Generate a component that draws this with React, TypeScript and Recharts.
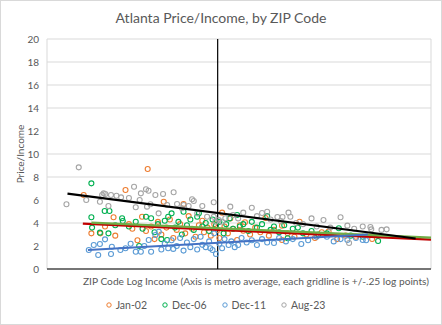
import {
    ScatterChart,
    Scatter,
    XAxis,
    YAxis,
    CartesianGrid,
    ReferenceLine,
    Legend,
} from 'recharts';

// x = ZIP log income relative to metro average, y = price / income
const jan02: [number, number][] = [
    [-0.785, 6.43], [-0.74, 3.1], [-0.687, 3.1], [-0.66, 3.7], [-0.61, 4.5], [-0.6, 2.9],
    [-0.54, 6.87], [-0.52, 3.9], [-0.5, 3.5], [-0.47, 2.5], [-0.443, 4.55], [-0.42, 3.3],
    [-0.41, 8.7], [-0.39, 3.7], [-0.37, 2.6], [-0.35, 4.1], [-0.33, 3.0], [-0.316, 5.85],
    [-0.3, 3.6], [-0.28, 4.3], [-0.26, 2.7], [-0.24, 3.4], [-0.22, 3.9], [-0.2, 5.65],
    [-0.19, 3.1], [-0.17, 4.6], [-0.15, 3.5], [-0.13, 2.8], [-0.11, 3.8], [-0.09, 4.2],
    [-0.08, 3.2], [-0.06, 3.6], [-0.04, 2.9], [-0.02, 3.9], [0.0, 3.4], [0.01, 2.7],
    [0.026, 4.9], [0.04, 3.7], [0.06, 3.1], [0.074, 4.4], [0.09, 3.5], [0.114, 2.52],
    [0.13, 3.8], [0.15, 3.33], [0.16, 4.06], [0.19, 3.0], [0.22, 3.6], [0.25, 3.2],
    [0.28, 4.43], [0.3, 2.9], [0.33, 3.4], [0.377, 3.77], [0.377, 2.52], [0.41, 3.1],
    [0.45, 2.8], [0.48, 4.11], [0.52, 3.0], [0.57, 2.7], [0.61, 3.2], [0.65, 3.25],
    [0.7, 2.6], [0.75, 2.9], [0.81, 2.81], [0.905, 2.61],
];

const dec06: [number, number][] = [
    [-0.74, 7.45], [-0.74, 4.5], [-0.736, 3.6], [-0.69, 3.16], [-0.662, 5.04], [-0.64, 3.1],
    [-0.634, 5.04], [-0.6, 3.8], [-0.56, 4.41], [-0.556, 4.17], [-0.52, 3.7], [-0.48, 4.11],
    [-0.46, 2.0], [-0.44, 3.5], [-0.42, 4.55], [-0.39, 4.41], [-0.37, 3.2], [-0.35, 3.9],
    [-0.33, 2.6], [-0.31, 4.2], [-0.296, 2.52], [-0.29, 4.55], [-0.27, 4.84], [-0.25, 3.6],
    [-0.23, 4.1], [-0.21, 3.0], [-0.2, 4.98], [-0.18, 3.8], [-0.16, 4.3], [-0.14, 3.4],
    [-0.12, 4.55], [-0.11, 4.84], [-0.09, 3.7], [-0.07, 4.0], [-0.05, 3.3], [-0.03, 4.3],
    [-0.01, 3.8], [0.01, 4.1], [0.035, 3.1], [0.05, 3.9], [0.07, 4.4], [0.09, 3.5],
    [0.114, 4.7], [0.13, 3.7], [0.15, 3.9], [0.18, 3.3], [0.2, 4.1], [0.23, 3.6],
    [0.26, 3.9], [0.29, 4.6], [0.31, 3.4], [0.33, 3.7], [0.36, 3.2], [0.39, 3.8],
    [0.41, 2.67], [0.44, 3.5], [0.47, 3.6], [0.5, 3.1], [0.55, 3.3], [0.59, 3.0],
    [0.64, 3.1], [0.71, 3.54], [0.78, 2.9], [0.85, 2.8], [0.94, 2.43],
];

const dec11: [number, number][] = [
    [-0.755, 1.65], [-0.726, 2.09], [-0.7, 1.22], [-0.69, 2.17], [-0.66, 2.58], [-0.625, 1.3],
    [-0.62, 1.94], [-0.57, 1.65], [-0.54, 1.8], [-0.51, 2.2], [-0.48, 1.5], [-0.45, 1.5],
    [-0.43, 2.0], [-0.404, 2.52], [-0.39, 1.5], [-0.365, 2.96], [-0.345, 3.24], [-0.33, 1.7],
    [-0.31, 2.2], [-0.29, 1.8], [-0.27, 2.5], [-0.26, 1.75], [-0.24, 2.0], [-0.22, 2.7],
    [-0.2, 1.6], [-0.18, 2.3], [-0.16, 1.9], [-0.14, 2.6], [-0.12, 1.7], [-0.1, 2.81],
    [-0.09, 2.1], [-0.07, 1.9], [-0.05, 2.4], [-0.043, 1.8], [-0.03, 1.65], [-0.02, 3.1],
    [-0.01, 1.3], [0.01, 2.2], [0.026, 1.8], [0.04, 2.6], [0.064, 2.09], [0.08, 2.4],
    [0.1, 1.9], [0.12, 2.09], [0.14, 2.7], [0.17, 2.3], [0.2, 2.5], [0.23, 2.09],
    [0.26, 2.6], [0.29, 2.3], [0.33, 2.26], [0.36, 2.7], [0.4, 2.4], [0.44, 2.6],
    [0.49, 2.17], [0.53, 2.5], [0.58, 2.81], [0.64, 2.81], [0.68, 2.4], [0.72, 2.6],
    [0.76, 2.52], [0.81, 2.7], [0.85, 2.52], [0.87, 2.5],
];

const aug23: [number, number][] = [
    [-0.886, 5.63], [-0.814, 8.84], [-0.77, 6.0], [-0.69, 5.85], [-0.677, 6.43], [-0.668, 6.58],
    [-0.658, 6.52], [-0.64, 5.48], [-0.625, 6.43], [-0.593, 6.37], [-0.566, 6.23], [-0.52, 6.17],
    [-0.49, 7.15], [-0.48, 5.37], [-0.457, 6.0], [-0.45, 6.58], [-0.42, 6.93], [-0.414, 5.42],
    [-0.405, 6.8], [-0.394, 5.63], [-0.365, 6.43], [-0.346, 4.84], [-0.32, 6.52], [-0.296, 5.57],
    [-0.258, 6.67], [-0.238, 5.65], [-0.209, 5.28], [-0.199, 5.57], [-0.17, 5.48], [-0.15, 6.06],
    [-0.14, 5.91], [-0.12, 4.84], [-0.09, 5.48], [-0.062, 4.55], [-0.023, 5.8], [-0.023, 4.55],
    [-0.013, 4.11], [0.006, 4.26], [0.026, 4.11], [0.045, 4.41], [0.074, 5.42], [0.09, 4.7],
    [0.12, 4.4], [0.15, 4.9], [0.2, 5.33], [0.23, 4.6], [0.26, 4.87], [0.29, 4.98],
    [0.31, 4.3], [0.35, 4.52], [0.37, 4.17], [0.38, 4.52], [0.415, 4.9], [0.426, 4.55],
    [0.46, 4.0], [0.5, 3.9], [0.55, 4.4], [0.58, 3.7], [0.62, 4.26], [0.66, 3.6],
    [0.72, 4.5], [0.76, 3.77], [0.77, 2.26], [0.8, 3.5], [0.85, 3.7], [0.895, 3.65],
    [0.9, 3.45], [0.96, 3.4], [0.99, 3.45],
];

// linear trendline end points
const trendJan02: [number, number][] = [[-0.79, 3.94], [1.25, 2.55]];
const trendDec06: [number, number][] = [[-0.74, 4.03], [1.25, 2.72]];
const trendDec11: [number, number][] = [[-0.76, 1.65], [0.88, 3.0]];
const trendAug23: [number, number][] = [[-0.88, 6.55], [1.16, 2.65]];

const xTicks = [-1, -0.75, -0.5, -0.25, 0, 0.25, 0.5, 0.75, 1, 1.25];
const yTicks = [0, 2, 4, 6, 8, 10, 12, 14, 16, 18, 20];

const toPoints = (arr: [number, number][]) => arr.map(([x, y]) => ({ x, y }));

const series = [
    { name: 'Jan-02', data: jan02, color: '#ED7D31' },
    { name: 'Dec-06', data: dec06, color: '#00B050' },
    { name: 'Dec-11', data: dec11, color: '#5B9BD5' },
    { name: 'Aug-23', data: aug23, color: '#A5A5A5' },
];

const trends = [
    { data: trendJan02, color: '#C00000' },
    { data: trendDec06, color: '#70AD47' },
    { data: trendDec11, color: '#4472C4' },
    { data: trendAug23, color: '#000000' },
];

const FONT = 'Lato, "Noto Sans", sans-serif';
const TEXT = '#595959';

const hollow = (color: string) => (props: any) =>
    <circle cx={props.cx} cy={props.cy} r={2.5} fill="none" stroke={color} strokeWidth={1.1} />;

const LegendContent = () => (
    <div style={{ display: 'flex', justifyContent: 'center', gap: 15, fontFamily: FONT, fontSize: 10.5, color: TEXT }}>
        {series.map((s) => (
            <div key={s.name} style={{ display: 'flex', alignItems: 'center', gap: 4 }}>
                <svg width={6} height={6}>
                    <circle cx={3} cy={3} r={2.2} fill="none" stroke={s.color} strokeWidth={1} />
                </svg>
                <span>{s.name}</span>
            </div>
        ))}
    </div>
);

const App = () => {
    return (
        <div style={{ position: 'absolute', left: 0, top: 0, width: 442, height: 325, background: '#fff' }}>
            <div
                style={{
                    position: 'absolute',
                    top: 9,
                    left: 0,
                    width: 442,
                    textAlign: 'center',
                    fontFamily: FONT,
                    fontSize: 14,
                    color: TEXT,
                }}
            >
                Atlanta Price/Income, by ZIP Code
            </div>
            <ScatterChart
                width={442}
                height={325}
                margin={{ top: 39, right: 11, left: 0, bottom: 0 }}
                style={{ fontFamily: FONT }}
            >
                <CartesianGrid stroke="#D9D9D9" />
                <XAxis
                    type="number"
                    dataKey="x"
                    domain={[-1, 1.25]}
                    ticks={xTicks}
                    tick={false}
                    tickSize={4}
                    tickLine={{ stroke: '#000' }}
                    axisLine={{ stroke: '#000' }}
                    height={30}
                    label={{
                        content: (p: any) => (
                            <text
                                x={p.viewBox.x + p.viewBox.width / 2 + 17}
                                y={p.viewBox.y + 16}
                                textAnchor="middle"
                                fill={TEXT}
                                fontSize={10.2}
                                fontFamily={FONT}
                            >
                                ZIP Code Log Income (Axis is metro average, each gridline is +/-.25 log points)
                            </text>
                        ),
                    }}
                />
                <YAxis
                    type="number"
                    dataKey="y"
                    domain={[0, 20]}
                    ticks={yTicks}
                    width={47}
                    axisLine={false}
                    tickLine={false}
                    tick={{ fill: TEXT, fontSize: 10 }}
                    label={{
                        content: () => (
                            <text
                                x={20}
                                y={154}
                                transform="rotate(-90, 20, 154)"
                                textAnchor="middle"
                                dominantBaseline="central"
                                fill={TEXT}
                                fontSize={10}
                                fontFamily={FONT}
                            >
                                Price/Income
                            </text>
                        ),
                    }}
                />
                <ReferenceLine x={0} stroke="#000" strokeWidth={1.2} />
                <Legend verticalAlign="bottom" height={26} content={<LegendContent />} />
                {series.map((s) => (
                    <Scatter
                        key={s.name}
                        name={s.name}
                        data={toPoints(s.data)}
                        shape={hollow(s.color)}
                        isAnimationActive={false}
                    />
                ))}
                {trends.map((t, i) => (
                    <Scatter
                        key={'trend' + i}
                        data={toPoints(t.data)}
                        line={{ stroke: t.color, strokeWidth: 2.2 }}
                        shape={() => <g />}
                        legendType="none"
                        isAnimationActive={false}
                    />
                ))}
            </ScatterChart>
            <div
                style={{
                    position: 'absolute',
                    left: 0,
                    top: 0,
                    width: 442,
                    height: 325,
                    boxSizing: 'border-box',
                    border: '1px solid #D9D9D9',
                    pointerEvents: 'none',
                }}
            />
        </div>
    );
};

export default App;
